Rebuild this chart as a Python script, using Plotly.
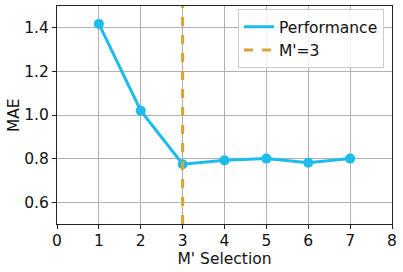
import plotly.graph_objects as go

m_selection = [1, 2, 3, 4, 5, 6, 7]
mae = [1.418, 1.02, 0.774, 0.792, 0.80, 0.781, 0.80]
chosen_m = 3
x_ticks = [0, 1, 2, 3, 4, 5, 6, 7, 8]
y_ticks = [0.6, 0.8, 1.0, 1.2, 1.4]

blue = "#1CBCEC"
gold = "#D9A432"
fs = 15.5

fig = go.Figure()
fig.add_trace(go.Scatter(
    x=m_selection, y=mae, mode="lines", name="Performance",
    line=dict(color=blue, width=3),
))
fig.add_trace(go.Scatter(
    x=m_selection, y=mae, mode="markers", showlegend=False,
    marker=dict(size=10, color=blue),
))
fig.add_trace(go.Scatter(
    x=[chosen_m, chosen_m], y=[0.5, 1.5], mode="lines", name="M'=3",
    line=dict(color=gold, width=3, dash="dash"),
))

axis_common = dict(
    showline=True, linecolor="#222", linewidth=1.2, mirror=True,
    showgrid=True, gridcolor="#b0b0b0", gridwidth=1,
    ticks="outside", ticklen=4, tickcolor="#222", zeroline=False,
    tickfont=dict(size=fs, color="#111"), automargin=False,
)
fig.update_xaxes(range=[0, 8], tickvals=x_ticks, ticklabelstandoff=-2,
                 title=dict(text="M' Selection", font=dict(size=fs, color="#111"), standoff=0), **axis_common)
fig.update_yaxes(range=[0.5, 1.5], tickvals=y_ticks, tickformat=".1f", **axis_common)

fig.add_annotation(text="MAE", xref="paper", yref="paper", x=-0.128, y=0.5,
                   textangle=-90, showarrow=False, xanchor="center", yanchor="middle",
                   font=dict(size=fs, color="#111"))

fig.update_layout(
    width=403, height=272,
    margin=dict(l=57, r=11, t=6, b=48),
    paper_bgcolor="white", plot_bgcolor="white",
    font=dict(family="DejaVu Sans", size=fs, color="#111"),
    showlegend=True,
    legend=dict(x=0.976, y=0.985, xanchor="right", yanchor="top",
                bgcolor="rgba(255,255,255,0.85)", bordercolor="#ccc", borderwidth=1,
                font=dict(size=fs), tracegroupgap=0),
)
fig.write_html("out.html", config={"displayModeBar": False},
               post_script="document.body.style.margin='0';document.body.style.padding='0';")
